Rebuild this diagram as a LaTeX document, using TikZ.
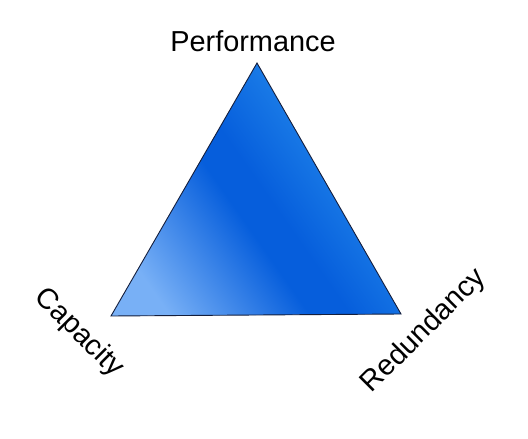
\documentclass[tikz,border=0pt]{standalone}
\usepackage{fontspec}
\setmainfont{Liberation Sans}
\definecolor{triLight}{RGB}{120,176,246}
\definecolor{triDark}{RGB}{6,94,220}
\definecolor{triTop}{RGB}{28,126,232}
\definecolor{triEdge}{RGB}{20,30,60}
\pgfdeclareverticalshading{trishade}{100bp}{color(0bp)=(triLight); color(24bp)=(triLight); color(45bp)=(triDark); color(51bp)=(triDark); color(65bp)=(triTop); color(100bp)=(triTop)}
\begin{document}
\begin{tikzpicture}[x=1bp,y=-1bp,
  lbl/.style={font=\fontsize{29}{34}\selectfont, text=black, inner sep=0pt}]
\useasboundingbox (0,0) rectangle (528,439);
\coordinate (apex) at (257,63);
\coordinate (bl) at (111,316);
\coordinate (br) at (401,314);
\shade[shading=trishade, shading angle=-55]
  (apex) -- (bl) -- (br) -- cycle;
\draw[triEdge, line width=0.9bp, line join=miter] (apex) -- (bl) -- (br) -- cycle;
\node[lbl] (perf) at (253,41) {Performance};
\node[lbl, rotate=-45] (cap) at (79,333) {Capacity};
\node[lbl, rotate=45] (red) at (424,331) {Redundancy};
\end{tikzpicture}
\end{document}
